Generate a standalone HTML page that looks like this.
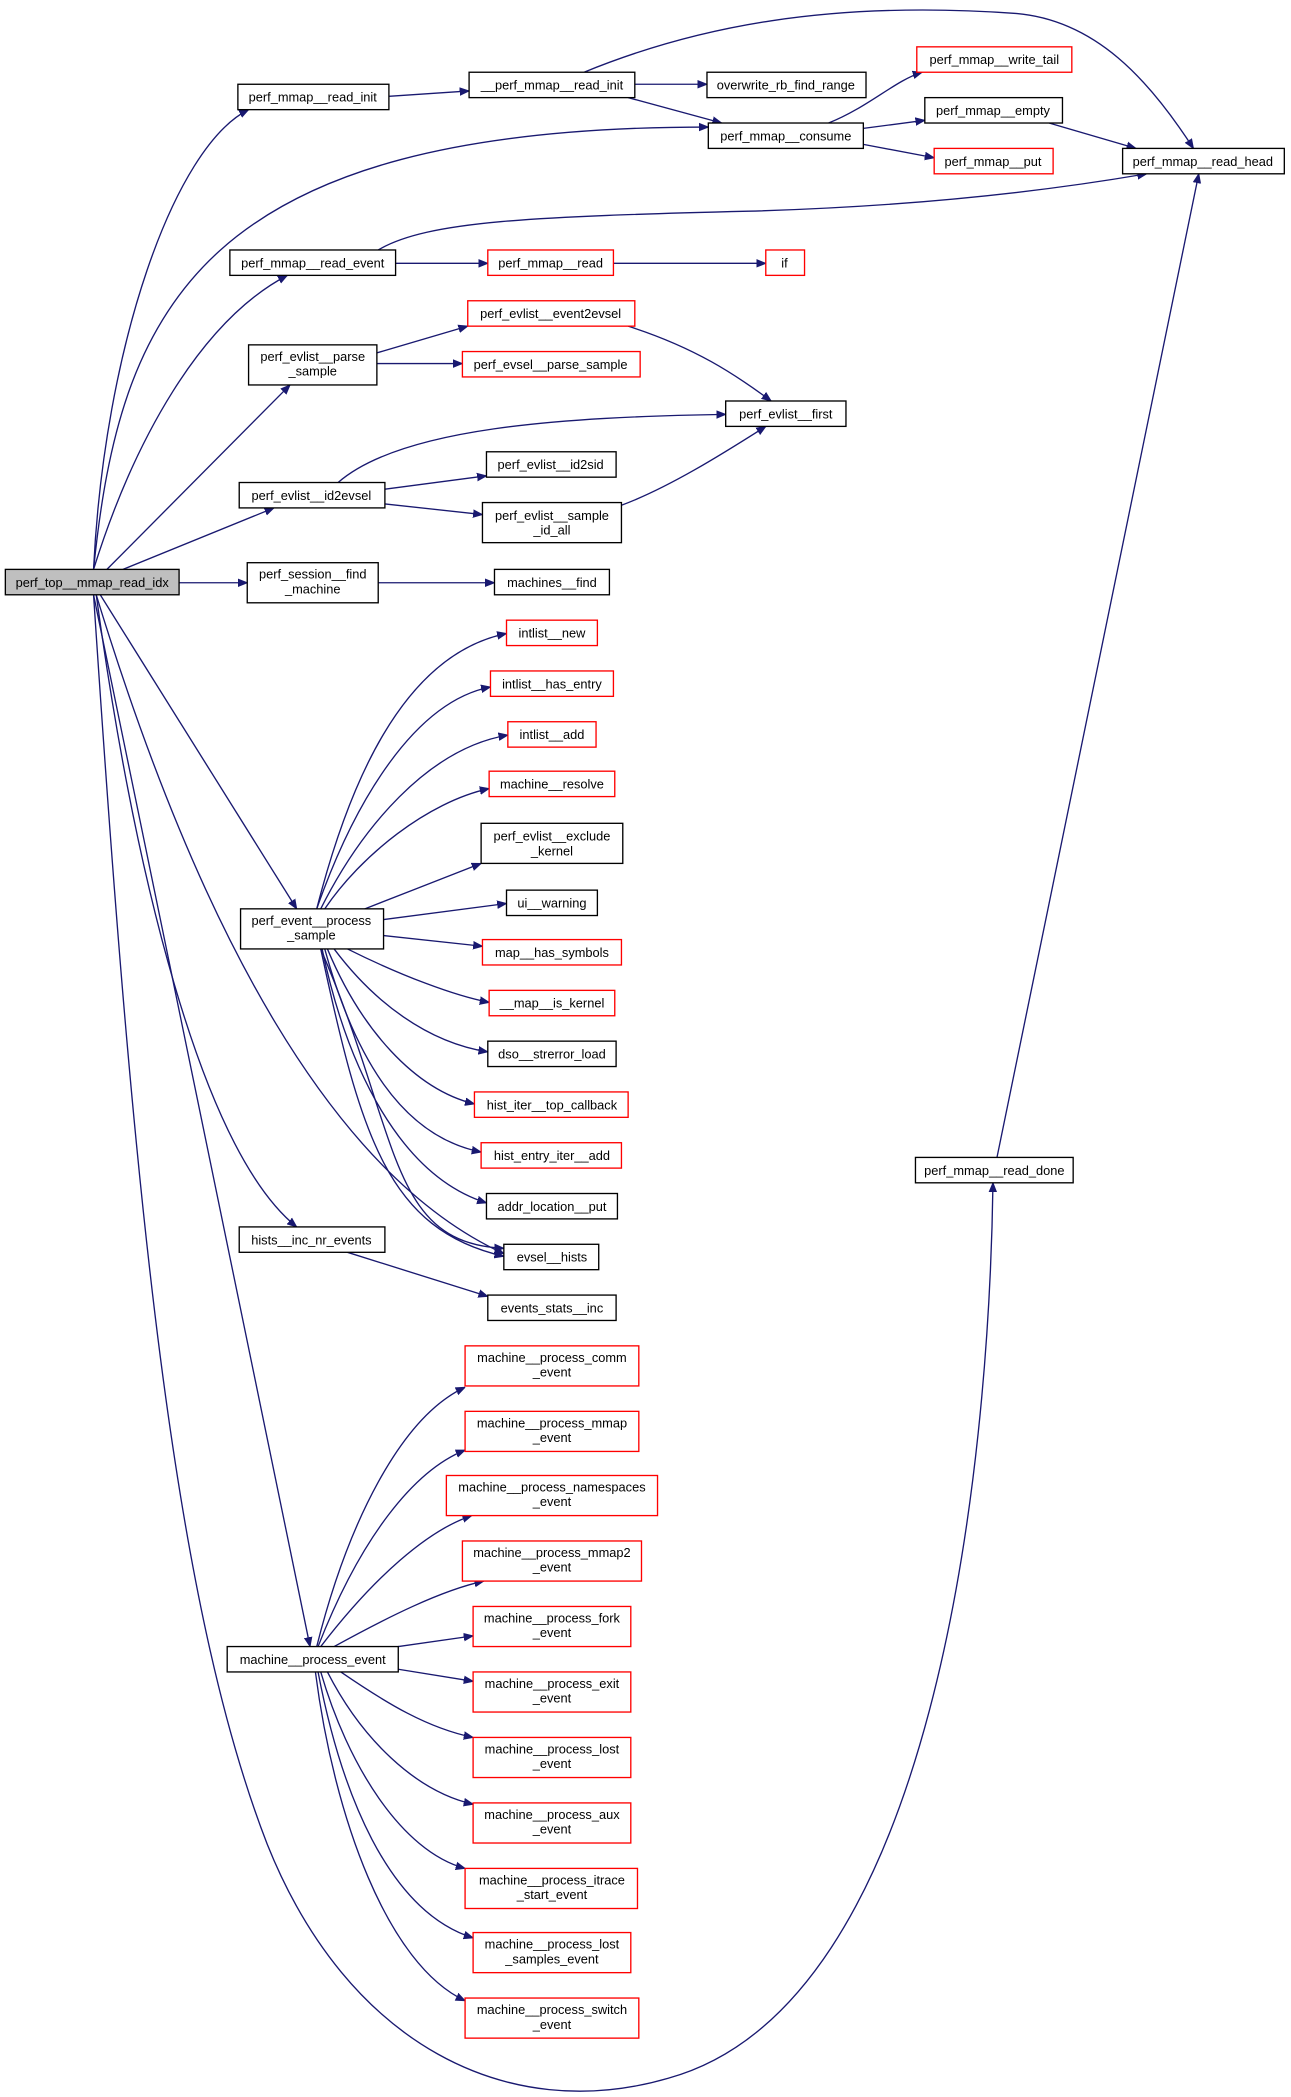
<!DOCTYPE html>
<html><head><meta charset="utf-8"><style>
html,body{margin:0;padding:0;background:#fff}
svg{display:block}
text{font-family:"Liberation Sans",sans-serif;font-size:9.6px;fill:#000;text-anchor:middle}
.b rect{fill:#fff;stroke:#000;stroke-width:1}
.r rect{fill:#fff;stroke:#f00;stroke-width:1}
path{fill:none;stroke:#191970;stroke-width:1}
</style></head><body>
<svg width="1291" height="2097" viewBox="0 0 966 1569" xmlns="http://www.w3.org/2000/svg">
<defs><marker id="a" viewBox="0 0 10 10" refX="10" refY="5" markerWidth="7" markerHeight="7" orient="auto"><path d="M0,1L10,5L0,9z" style="fill:#191970;stroke:#191970"/></marker></defs>
<g marker-end="url(#a)">
<path d="M70,426 C78,260 130,110 186,82"/>
<path d="M70,426 C90,230 150,95 530,95"/>
<path d="M70,426 C100,330 150,240 215,206"/>
<path d="M80,426 L217,288"/>
<path d="M92,426 L205,380"/>
<path d="M134,436 L185,436"/>
<path d="M75,445 L222,680"/>
<path d="M72,445 C100,650 150,860 222,918"/>
<path d="M72,445 C150,700 250,880 377,938"/>
<path d="M70,445 L232,1232"/>
<path d="M70,445 C100,900 130,1200 200,1380 C260,1530 380,1590 500,1555 C700,1500 740,1100 743,885"/>
<path d="M291,72 L351,68"/>
<path d="M475,63 L529,63"/>
<path d="M470,73 L540,92"/>
<path d="M437,54 C520,20 620,0 760,10 C820,15 860,60 893,111"/>
<path d="M620,92 C650,80 670,60 690,54"/>
<path d="M646,96 L692,90"/>
<path d="M646,108 L699,118"/>
<path d="M785,92 L850,111"/>
<path d="M283,187 C320,165 400,162 560,158 C700,154 800,140 858,130"/>
<path d="M296,197 L365,197"/>
<path d="M459,197 L573,197"/>
<path d="M282,264 L350,244"/>
<path d="M282,272 L346,272"/>
<path d="M470,244 C520,260 550,280 577,300"/>
<path d="M253,361 C300,320 420,312 543,310"/>
<path d="M288,366 L364,356"/>
<path d="M288,377 L361,385"/>
<path d="M465,378 C500,365 540,340 573,319"/>
<path d="M283,436 L370,436"/>
<path d="M237,680 C260,590 300,490 379,474"/>
<path d="M237,680 C265,600 310,525 367,514"/>
<path d="M240,680 C270,620 320,560 380,550"/>
<path d="M243,680 C270,640 320,600 366,590"/>
<path d="M273,680 L360,646"/>
<path d="M287,688 L379,676"/>
<path d="M287,700 L361,708"/>
<path d="M260,710 C300,730 340,745 366,750"/>
<path d="M250,710 C280,750 320,780 365,787"/>
<path d="M245,710 C270,770 310,815 355,826"/>
<path d="M243,710 C265,790 300,850 360,862"/>
<path d="M241,710 C260,800 300,880 364,900"/>
<path d="M240,710 C270,850 290,920 377,940"/>
<path d="M240,710 C300,850 290,930 377,934"/>
<path d="M260,937 L365,970"/>
<path d="M237,1232 C260,1140 300,1060 348,1038"/>
<path d="M238,1232 C270,1150 310,1100 348,1085"/>
<path d="M240,1232 C280,1180 320,1145 353,1134"/>
<path d="M250,1232 C290,1210 330,1190 362,1183"/>
<path d="M298,1232 L354,1224"/>
<path d="M298,1249 L354,1258"/>
<path d="M255,1251 C290,1275 320,1293 354,1300"/>
<path d="M245,1251 C270,1300 310,1340 354,1350"/>
<path d="M240,1251 C260,1320 300,1385 348,1398"/>
<path d="M238,1251 C255,1340 290,1430 354,1450"/>
<path d="M236,1251 C250,1360 290,1470 348,1497"/>
<path d="M746,866 L897,130"/>
</g>
<g class="b"><rect x="4" y="426" width="130" height="19" style="fill:#bfbfbf"/><text x="69" y="439">perf_top__mmap_read_idx</text></g>
<g class="b"><rect x="178" y="63" width="113" height="19"/><text x="234" y="76">perf_mmap__read_init</text></g>
<g class="b"><rect x="351" y="54" width="124" height="19"/><text x="413" y="67">__perf_mmap__read_init</text></g>
<g class="b"><rect x="529" y="54" width="119" height="19"/><text x="588" y="67">overwrite_rb_find_range</text></g>
<g class="r"><rect x="686" y="35" width="116" height="19"/><text x="744" y="48">perf_mmap__write_tail</text></g>
<g class="b"><rect x="692" y="73" width="103" height="19"/><text x="743" y="86">perf_mmap__empty</text></g>
<g class="b"><rect x="530" y="92" width="116" height="19"/><text x="588" y="105">perf_mmap__consume</text></g>
<g class="r"><rect x="699" y="111" width="89" height="19"/><text x="743" y="124">perf_mmap__put</text></g>
<g class="b"><rect x="840" y="111" width="121" height="19"/><text x="900" y="124">perf_mmap__read_head</text></g>
<g class="b"><rect x="172" y="187" width="124" height="19"/><text x="234" y="200">perf_mmap__read_event</text></g>
<g class="r"><rect x="365" y="187" width="94" height="19"/><text x="412" y="200">perf_mmap__read</text></g>
<g class="r"><rect x="573" y="187" width="29" height="19"/><text x="587" y="200">if</text></g>
<g class="r"><rect x="350" y="225" width="125" height="19"/><text x="412" y="238">perf_evlist__event2evsel</text></g>
<g class="b"><rect x="186" y="258" width="96" height="30"/><text x="234" y="270">perf_evlist__parse</text><text x="234" y="281">_sample</text></g>
<g class="r"><rect x="346" y="263" width="133" height="19"/><text x="412" y="276">perf_evsel__parse_sample</text></g>
<g class="b"><rect x="543" y="300" width="90" height="19"/><text x="588" y="313">perf_evlist__first</text></g>
<g class="b"><rect x="364" y="338" width="97" height="19"/><text x="412" y="351">perf_evlist__id2sid</text></g>
<g class="b"><rect x="179" y="361" width="109" height="19"/><text x="233" y="374">perf_evlist__id2evsel</text></g>
<g class="b"><rect x="361" y="376" width="104" height="30"/><text x="413" y="389">perf_evlist__sample</text><text x="413" y="400">_id_all</text></g>
<g class="b"><rect x="185" y="421" width="98" height="30"/><text x="234" y="433">perf_session__find</text><text x="234" y="444">_machine</text></g>
<g class="b"><rect x="370" y="426" width="86" height="19"/><text x="413" y="439">machines__find</text></g>
<g class="r"><rect x="379" y="464" width="68" height="19"/><text x="413" y="477">intlist__new</text></g>
<g class="r"><rect x="367" y="502" width="92" height="19"/><text x="413" y="515">intlist__has_entry</text></g>
<g class="r"><rect x="380" y="540" width="66" height="19"/><text x="413" y="553">intlist__add</text></g>
<g class="r"><rect x="366" y="577" width="94" height="19"/><text x="413" y="590">machine__resolve</text></g>
<g class="b"><rect x="360" y="616" width="106" height="30"/><text x="413" y="629">perf_evlist__exclude</text><text x="413" y="640">_kernel</text></g>
<g class="b"><rect x="379" y="666" width="68" height="19"/><text x="413" y="679">ui__warning</text></g>
<g class="b"><rect x="180" y="680" width="107" height="30"/><text x="233" y="692">perf_event__process</text><text x="233" y="703">_sample</text></g>
<g class="r"><rect x="361" y="703" width="104" height="19"/><text x="413" y="716">map__has_symbols</text></g>
<g class="r"><rect x="366" y="741" width="94" height="19"/><text x="413" y="754">__map__is_kernel</text></g>
<g class="b"><rect x="365" y="779" width="96" height="19"/><text x="413" y="792">dso__strerror_load</text></g>
<g class="r"><rect x="355" y="817" width="115" height="19"/><text x="413" y="830">hist_iter__top_callback</text></g>
<g class="r"><rect x="360" y="855" width="105" height="19"/><text x="413" y="868">hist_entry_iter__add</text></g>
<g class="b"><rect x="364" y="893" width="98" height="19"/><text x="413" y="906">addr_location__put</text></g>
<g class="b"><rect x="377" y="931" width="71" height="19"/><text x="413" y="944">evsel__hists</text></g>
<g class="b"><rect x="179" y="918" width="109" height="19"/><text x="233" y="931">hists__inc_nr_events</text></g>
<g class="b"><rect x="365" y="969" width="96" height="19"/><text x="413" y="982">events_stats__inc</text></g>
<g class="r"><rect x="348" y="1007" width="130" height="30"/><text x="413" y="1019">machine__process_comm</text><text x="413" y="1030">_event</text></g>
<g class="r"><rect x="348" y="1056" width="130" height="30"/><text x="413" y="1068">machine__process_mmap</text><text x="413" y="1079">_event</text></g>
<g class="r"><rect x="334" y="1104" width="158" height="30"/><text x="413" y="1116">machine__process_namespaces</text><text x="413" y="1127">_event</text></g>
<g class="r"><rect x="346" y="1153" width="134" height="30"/><text x="413" y="1165">machine__process_mmap2</text><text x="413" y="1176">_event</text></g>
<g class="r"><rect x="354" y="1202" width="118" height="30"/><text x="413" y="1214">machine__process_fork</text><text x="413" y="1225">_event</text></g>
<g class="r"><rect x="354" y="1251" width="118" height="30"/><text x="413" y="1263">machine__process_exit</text><text x="413" y="1274">_event</text></g>
<g class="r"><rect x="354" y="1300" width="118" height="30"/><text x="413" y="1312">machine__process_lost</text><text x="413" y="1323">_event</text></g>
<g class="r"><rect x="354" y="1349" width="118" height="30"/><text x="413" y="1361">machine__process_aux</text><text x="413" y="1372">_event</text></g>
<g class="r"><rect x="348" y="1398" width="129" height="30"/><text x="413" y="1410">machine__process_itrace</text><text x="413" y="1421">_start_event</text></g>
<g class="r"><rect x="354" y="1446" width="118" height="30"/><text x="413" y="1458">machine__process_lost</text><text x="413" y="1469">_samples_event</text></g>
<g class="r"><rect x="348" y="1495" width="130" height="30"/><text x="413" y="1507">machine__process_switch</text><text x="413" y="1518">_event</text></g>
<g class="b"><rect x="170" y="1232" width="128" height="19"/><text x="234" y="1245">machine__process_event</text></g>
<g class="b"><rect x="685" y="866" width="118" height="19"/><text x="744" y="879">perf_mmap__read_done</text></g>
</svg>
</body></html>
